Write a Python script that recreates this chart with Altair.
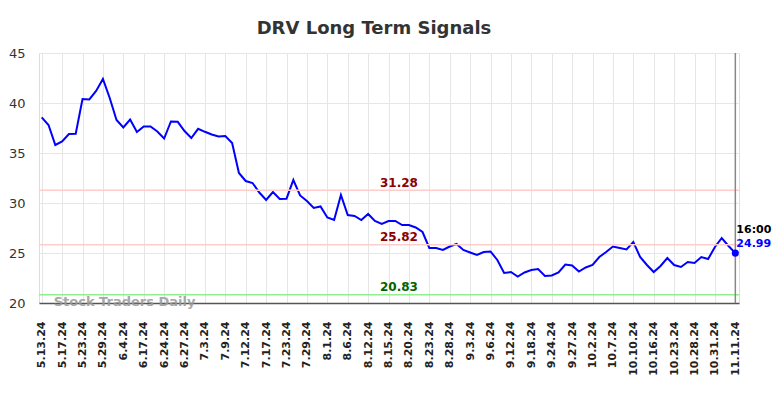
import altair as alt
import pandas as pd

# ---- data ----
values = [
    38.56, 37.8, 35.8, 36.15, 36.9, 36.93, 40.4, 40.36, 41.2, 42.4,
    40.5, 38.3, 37.55, 38.35, 37.1, 37.65, 37.65, 37.15, 36.45, 38.15,
    38.12, 37.2, 36.5, 37.42, 37.12, 36.85, 36.65, 36.7, 36.0, 33.0,
    32.2, 32.0, 31.05, 30.3, 31.1, 30.4, 30.43, 32.3, 30.75, 30.2,
    29.5, 29.65, 28.55, 28.3, 30.8, 28.8, 28.7, 28.3, 28.9, 28.2,
    27.9, 28.2, 28.2, 27.8, 27.8, 27.55, 27.1, 25.5, 25.5, 25.3,
    25.65, 25.9, 25.3, 25.05, 24.8, 25.1, 25.15, 24.3, 23.0, 23.1,
    22.65, 23.05, 23.3, 23.4, 22.7, 22.75, 23.05, 23.85, 23.75, 23.15,
    23.55, 23.8, 24.6, 25.1, 25.65, 25.5, 25.35, 26.1, 24.6, 23.8,
    23.1, 23.7, 24.5, 23.8, 23.6, 24.1, 24.0, 24.6, 24.4, 25.6,
    26.5, 25.7, 24.99,
]
tick_labels = [
    "5.13.24", "5.17.24", "5.23.24", "5.29.24", "6.4.24", "6.17.24", "6.24.24",
    "6.27.24", "7.3.24", "7.9.24", "7.12.24", "7.17.24", "7.23.24", "7.29.24",
    "8.1.24", "8.6.24", "8.12.24", "8.15.24", "8.20.24", "8.23.24", "8.28.24",
    "9.3.24", "9.6.24", "9.12.24", "9.18.24", "9.24.24", "9.27.24", "10.2.24",
    "10.7.24", "10.10.24", "10.16.24", "10.23.24", "10.28.24", "10.31.24",
    "11.11.24",
]
tick_step = 3
level_values = [31.28, 25.82, 20.83]
level_names = ["31.28", "25.82", "20.83"]
level_line_colors = ["#ffcccc", "#ffcccc", "#90ee90"]
level_text_colors = ["#8b0000", "#8b0000", "#006400"]
last_time = "16:00"
title = "DRV Long Term Signals"
watermark = "Stock Traders Daily"

# ---- tables ----
n = len(values)
df = pd.DataFrame({"i": list(range(n)), "v": values})
last = df.iloc[[-1]].copy()
last["t"] = last_time
last["lbl"] = [f"{values[-1]:.2f}"]
levels = pd.DataFrame({"v": level_values, "name": level_names,
                       "lc": level_line_colors, "tc": level_text_colors})
wm_df = pd.DataFrame({"t": [watermark], "v": [20]})

tick_vals = list(range(0, n, tick_step))
if tick_vals[-1] != n - 1:
    tick_vals.append(n - 1)
arr = "[" + ",".join(f"'{t}'" for t in tick_labels) + "]"
label_expr = f"{arr}[round(datum.value / {tick_step})]"

FONT = "DejaVu Sans"
xscale = alt.Scale(domain=[-0.4, n - 1 + 0.54], nice=False, zero=False)
yscale = alt.Scale(domain=[20, 45], nice=False, zero=False)

x_enc = alt.X("i:Q", scale=xscale, title=None,
              axis=alt.Axis(values=tick_vals, labelExpr=label_expr, labelAngle=270,
                            ticks=False, labelPadding=18, labelFont=FONT,
                            labelFontSize=11, labelFontWeight="bold", labelColor="#222",
                            grid=True, gridColor="#e6e6e6", gridWidth=1,
                            domain=True, domainColor="#555", domainWidth=1.5,
                            labelOverlap=False, labelBound=False, labelFlush=False))
y_enc = alt.Y("v:Q", scale=yscale, title=None,
              axis=alt.Axis(values=[20, 25, 30, 35, 40, 45], ticks=False,
                            labelPadding=14, labelFont=FONT, labelFontSize=13,
                            labelColor="#333", grid=True, gridColor="#e6e6e6",
                            gridWidth=1, domain=False, labelOverlap=False))

line = alt.Chart(df).mark_line(color="#0000ff", strokeWidth=2).encode(x=x_enc, y=y_enc)

level_rules = alt.Chart(levels).mark_rule(strokeWidth=1.5).encode(
    y=y_enc,
    color=alt.Color("lc:N", scale=None),
)
level_text = alt.Chart(levels).mark_text(
    font=FONT, fontSize=12, fontWeight="bold", align="center",
    baseline="alphabetic", dy=-3.5,
).encode(
    x=alt.value(360),
    y=y_enc,
    text="name:N",
    color=alt.Color("tc:N", scale=None),
)
wm = alt.Chart(wm_df).mark_text(
    font=FONT, fontSize=13, fontWeight="bold", color="#999", opacity=0.85,
    align="left", baseline="middle", dy=-1,
).encode(x=alt.value(14.7), y=y_enc, text="t:N")

vrule = alt.Chart(last).mark_rule(color="#888", strokeWidth=1.5).encode(
    x=x_enc, y=alt.value(0), y2=alt.value(250)
)
dot = alt.Chart(last).mark_point(filled=True, size=50, color="#0000ff", opacity=1).encode(
    x=x_enc, y=y_enc
)
time_txt = alt.Chart(last).mark_text(
    font=FONT, fontSize=11, fontWeight="bold", color="#000", align="left",
    baseline="alphabetic", dx=1, dy=-20,
).encode(x=x_enc, y=y_enc, text="t:N")
val_txt = alt.Chart(last).mark_text(
    font=FONT, fontSize=11, fontWeight="bold", color="#0000ff", align="left",
    baseline="alphabetic", dx=1, dy=-6,
).encode(x=x_enc, y=y_enc, text="lbl:N")

chart = alt.layer(
    line, level_rules, level_text, wm, vrule, dot, time_txt, val_txt
).properties(
    width=700, height=250,
    title=alt.TitleParams(title, font=FONT, fontSize=18, fontWeight="bold",
                          color="#333", anchor="middle", offset=9, dx=-15),
    autosize=alt.AutoSizeParams(type="none"),
    padding={"left": 31, "top": 45, "right": 36, "bottom": 80},
).configure_view(stroke=None).configure(background="white")

chart.save("out.html", embed_options={"renderer": "svg", "actions": False})
